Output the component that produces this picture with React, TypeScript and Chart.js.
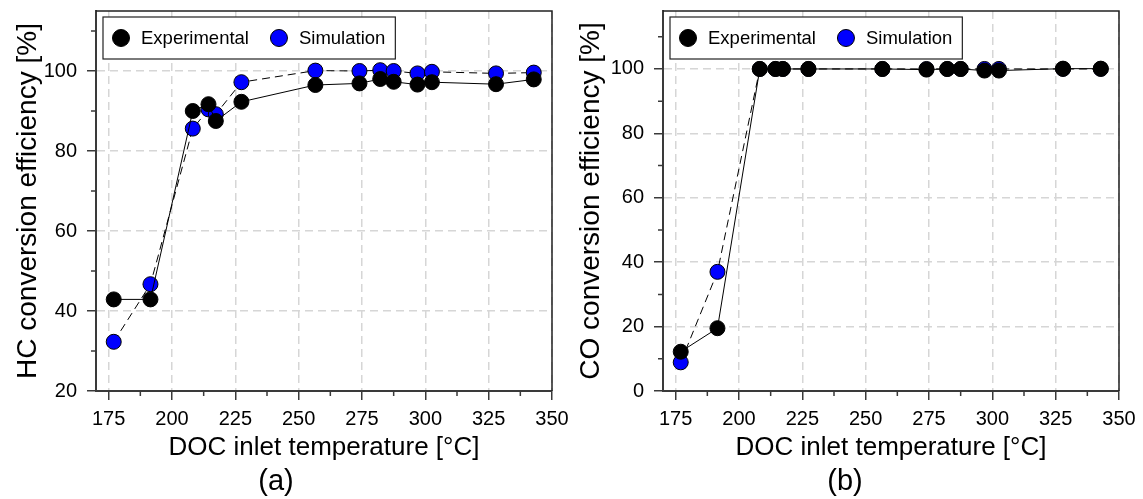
import { useEffect, useRef } from 'react';
import { Chart, registerables } from 'chart.js';

Chart.register(...registerables);

// ---- data ----
const temperatures = [177, 191.5, 208.2, 214.4, 217.3, 227.4, 256.6, 274, 282.2, 287.5, 296.9, 302.6, 327.9, 342.8];
const hcExperimental = [42.9, 42.9, 90, 91.7, 87.5, 92.3, 96.5, 96.9, 98, 97.3, 96.6, 97.2, 96.7, 97.9];
const hcSimulation = [32.3, 46.7, 85.6, 90.4, 89.2, 97.2, 100.1, 100, 100.2, 100, 99.4, 99.8, 99.4, 99.6];
const coExperimental = [12.2, 19.5, 100, 100, 100, 100, 100, 99.8, 100, 100, 99.5, 99.5, 100.1, 100.1];
const coSimulation = [8.9, 37, 100, 100, 100, 100, 100, 100, 100, 100, 100, 100, 100, 100];

const xMajorTicks = [175, 200, 225, 250, 275, 300, 325, 350];
const xMinorTicks = [187.5, 212.5, 237.5, 262.5, 287.5, 312.5, 337.5];
const hcMajorTicks = [20, 40, 60, 80, 100];
const hcMinorTicks = [30, 50, 70, 90, 110];
const coMajorTicks = [0, 20, 40, 60, 80, 100];
const coMinorTicks = [10, 30, 50, 70, 90, 110];
const seriesLabels = ['Experimental', 'Simulation'];
const xAxisTitle = 'DOC inlet temperature [°C]';

const FONT = '"Liberation Sans", Arial, sans-serif';
const AXIS = '#3a3a3a';

const frameAndTicksPlugin = {
  id: 'frameAndTicks',
  beforeDatasetsDraw(chart: any) {
    const { ctx, chartArea: a } = chart;
    ctx.save();
    ctx.strokeStyle = '#222';
    ctx.lineWidth = 1.5;
    ctx.beginPath();
    ctx.moveTo(a.left, a.top);
    ctx.lineTo(a.right, a.top);
    ctx.lineTo(a.right, a.bottom);
    ctx.stroke();
    ctx.restore();
  },
  afterDraw(chart: any, _args: any, opts: any) {
    const { ctx, chartArea: a, scales } = chart;
    ctx.save();
    ctx.strokeStyle = AXIS;
    ctx.lineWidth = 1.5;
    ctx.beginPath();
    (opts.x || []).forEach((v: number) => {
      const px = scales.x.getPixelForValue(v);
      ctx.moveTo(px, a.bottom);
      ctx.lineTo(px, a.bottom + 5);
    });
    (opts.y || []).forEach((v: number) => {
      const py = scales.y.getPixelForValue(v);
      ctx.moveTo(a.left, py);
      ctx.lineTo(a.left - 5, py);
    });
    ctx.stroke();
    ctx.restore();
  },
};

const legendBoxPlugin = {
  id: 'legendBox',
  afterDraw(chart: any) {
    const { ctx, chartArea: a } = chart;
    ctx.save();
    ctx.font = `18.5px ${FONT}`;
    const x0 = a.left + 7;
    const y0 = a.top + 6;
    const h = 42;
    const items = chart.data.datasets.map((ds: any) => ({
      label: ds.label as string,
      color: ds.pointBackgroundColor as string,
      w: ctx.measureText(ds.label).width,
    }));
    let cx = x0 + 18;
    let lastEnd = x0;
    const placed: any[] = [];
    items.forEach((it: any) => {
      const tx = cx + 20;
      placed.push({ ...it, cx, tx });
      lastEnd = tx + it.w;
      cx = lastEnd + 30;
    });
    const right = lastEnd + 10;
    ctx.fillStyle = '#fff';
    ctx.fillRect(x0, y0, right - x0, h);
    ctx.strokeStyle = '#222';
    ctx.lineWidth = 1.2;
    ctx.strokeRect(x0, y0, right - x0, h);
    const cy = y0 + h / 2;
    placed.forEach((p) => {
      ctx.beginPath();
      ctx.arc(p.cx, cy, 8.5, 0, Math.PI * 2);
      ctx.fillStyle = p.color;
      ctx.fill();
      ctx.strokeStyle = '#000';
      ctx.lineWidth = 1;
      ctx.stroke();
      ctx.fillStyle = '#000';
      ctx.textBaseline = 'middle';
      ctx.textAlign = 'left';
      ctx.fillText(p.label, p.tx, cy + 1);
    });
    ctx.restore();
  },
};

type Spec = {
  width: number;
  axisWidth: number;
  rightPad: number;
  yTitle: string;
  yTitlePad: number;
  yMin: number;
  yMax: number;
  yMajor: number[];
  yMinor: number[];
  exp: number[];
  sim: number[];
  caption: string;
};

function buildConfig(spec: Spec): any {
  const makeSet = (label: string, values: number[], color: string, dash: number[]) => ({
    label,
    data: temperatures.map((x, i) => ({ x, y: values[i] })),
    showLine: true,
    borderColor: '#000',
    borderWidth: 1,
    borderDash: dash,
    backgroundColor: color,
    pointBackgroundColor: color,
    pointBorderColor: '#000',
    pointBorderWidth: 1,
    pointRadius: 7.5,
    tension: 0,
  });
  return {
    type: 'scatter',
    data: {
      datasets: [
        makeSet(seriesLabels[0], spec.exp, '#000000', []),
        makeSet(seriesLabels[1], spec.sim, '#0000ff', [8, 5]),
      ],
    },
    options: {
      responsive: false,
      animation: false,
      events: [],
      layout: { padding: { top: 11, right: spec.rightPad, left: 0, bottom: 0 } },
      plugins: {
        legend: { display: false },
        tooltip: { enabled: false },
        title: {
          display: true,
          position: 'bottom',
          text: spec.caption,
          color: '#000',
          font: { family: FONT, size: 29, weight: 'normal' },
          padding: { top: 1, bottom: 0 },
        },
        frameAndTicks: { x: xMinorTicks, y: spec.yMinor },
      },
      scales: {
        x: {
          type: 'linear',
          min: 170,
          max: 350,
          afterBuildTicks: (s: any) => {
            s.ticks = xMajorTicks.map((value) => ({ value }));
          },
          afterFit: (s: any) => {
            s.height = 72.2;
            s.paddingLeft = 0;
            s.paddingRight = 0;
          },
          ticks: {
            autoSkip: false,
            maxRotation: 0,
            padding: 7,
            color: '#000',
            font: { family: FONT, size: 20 },
            callback: (v: any) => String(v),
          },
          grid: {
            color: '#d6d6d6',
            lineWidth: 1.5,
            tickColor: AXIS,
            tickWidth: 1.5,
            tickLength: 9,
            tickBorderDash: [],
          },
          border: { color: AXIS, width: 2, dash: [8, 5] },
          title: {
            display: true,
            text: xAxisTitle,
            color: '#000',
            font: { family: FONT, size: 26 },
            padding: { top: 0, bottom: 0 },
          },
        },
        y: {
          type: 'linear',
          min: spec.yMin,
          max: spec.yMax,
          afterBuildTicks: (s: any) => {
            s.ticks = spec.yMajor.map((value) => ({ value }));
          },
          afterFit: (s: any) => {
            s.width = spec.axisWidth;
            s.paddingTop = 0;
            s.paddingBottom = 0;
          },
          ticks: {
            autoSkip: false,
            padding: 10,
            color: '#000',
            font: { family: FONT, size: 20 },
            callback: (v: any) => String(v),
          },
          grid: {
            color: '#d6d6d6',
            lineWidth: 1.5,
            tickColor: AXIS,
            tickWidth: 1.5,
            tickLength: 9,
            tickBorderDash: [],
          },
          border: { color: AXIS, width: 2, dash: [8, 5] },
          title: {
            display: true,
            text: spec.yTitle,
            color: '#000',
            font: { family: FONT, size: 28 },
            padding: { top: spec.yTitlePad, bottom: 0 },
          },
        },
      },
    },
    plugins: [frameAndTicksPlugin, legendBoxPlugin],
  };
}

function Panel({ spec }: { spec: Spec }) {
  const ref = useRef<HTMLCanvasElement>(null);
  useEffect(() => {
    const chart = new Chart(ref.current as HTMLCanvasElement, buildConfig(spec));
    return () => chart.destroy();
  }, []);
  return (
    <canvas
      ref={ref}
      width={spec.width}
      height={499}
      style={{ display: 'block', width: spec.width, height: 499 }}
    />
  );
}

const leftSpec: Spec = {
  width: 571,
  axisWidth: 96,
  rightPad: 19,
  yTitle: 'HC conversion efficiency [%]',
  yTitlePad: 11.2,
  yMin: 20,
  yMax: 115,
  yMajor: hcMajorTicks,
  yMinor: hcMinorTicks,
  exp: hcExperimental,
  sim: hcSimulation,
  caption: '(a)',
};

const rightSpec: Spec = {
  width: 572,
  axisWidth: 92,
  rightPad: 24,
  yTitle: 'CO conversion efficiency [%]',
  yTitlePad: 3.2,
  yMin: 0,
  yMax: 118,
  yMajor: coMajorTicks,
  yMinor: coMinorTicks,
  exp: coExperimental,
  sim: coSimulation,
  caption: '(b)',
};

export default function App() {
  return (
    <div
      style={{
        position: 'absolute',
        left: 0,
        top: 0,
        width: 1143,
        height: 499,
        display: 'flex',
        background: '#fff',
      }}
    >
      <Panel spec={leftSpec} />
      <Panel spec={rightSpec} />
    </div>
  );
}
